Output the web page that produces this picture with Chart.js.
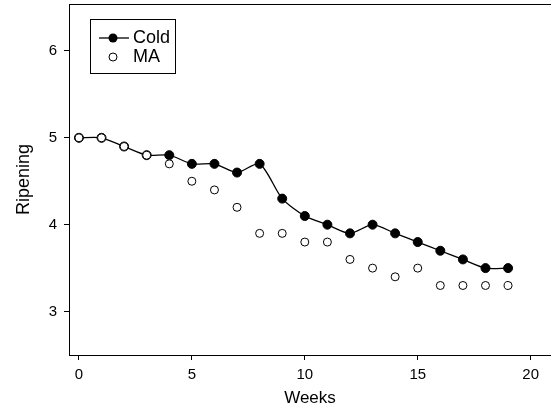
<!DOCTYPE html>
<html>
<head>
<meta charset="utf-8">
<script src="https://cdn.jsdelivr.net/npm/chart.js@4.4.1/dist/chart.umd.min.js"></script>
<style>
  html, body { margin: 0; padding: 0; background: #fff; }
  #wrap { width: 551px; height: 410px; }
</style>
</head>
<body>
<div id="wrap"><canvas id="ripeChart" width="551" height="410"></canvas></div>
<script>
// values
const weeks = [0, 1, 2, 3, 4, 5, 6, 7, 8, 9, 10, 11, 12, 13, 14, 15, 16, 17, 18, 19];
const cold  = [5.0, 5.0, 4.9, 4.8, 4.8, 4.7, 4.7, 4.6, 4.7, 4.3, 4.1, 4.0, 3.9, 4.0, 3.9, 3.8, 3.7, 3.6, 3.5, 3.5];
const ma    = [5.0, 5.0, 4.9, 4.8, 4.7, 4.5, 4.4, 4.2, 3.9, 3.9, 3.8, 3.8, 3.6, 3.5, 3.4, 3.5, 3.3, 3.3, 3.3, 3.3];
const xTicks = [0, 5, 10, 15, 20];
const yTicks = [3, 4, 5, 6];

const FONT = "'Liberation Sans', Arial, Helvetica, sans-serif";

const toPoints = (ys) => weeks.map((w, i) => ({ x: w, y: ys[i] }));

/* top frame line + boxed legend in the upper left */
const framePlugin = {
    id: 'frame',
    afterDraw(chart) {
        const { ctx, chartArea: a } = chart;
        ctx.save();
        ctx.strokeStyle = '#000';
        ctx.lineWidth = 1;
        ctx.beginPath();
        ctx.moveTo(a.left, a.top + 0.5);
        ctx.lineTo(a.right, a.top + 0.5);
        ctx.stroke();

        // legend
        const bx = a.left + 21, by = a.top + 15;
        ctx.strokeRect(bx + 0.5, by + 0.5, 85, 54);
        ctx.lineWidth = 1.3;
        ctx.beginPath();
        ctx.moveTo(bx + 9, by + 19);
        ctx.lineTo(bx + 39, by + 19);
        ctx.stroke();
        ctx.fillStyle = '#000';
        ctx.beginPath();
        ctx.arc(bx + 23, by + 19, 4.5, 0, Math.PI * 2);
        ctx.fill();
        ctx.lineWidth = 1;
        ctx.fillStyle = '#fff';
        ctx.beginPath();
        ctx.arc(bx + 23, by + 38, 4, 0, Math.PI * 2);
        ctx.fill();
        ctx.stroke();
        ctx.fillStyle = '#000';
        ctx.font = '18px ' + FONT;
        ctx.textBaseline = 'middle';
        ctx.fillText('Cold', bx + 43, by + 19);
        ctx.fillText('MA', bx + 43, by + 38);
        ctx.restore();
    }
};

new Chart(document.getElementById('ripeChart'), {
    type: 'line',
    data: {
        datasets: [
            {
                label: 'Cold', data: toPoints(cold), order: 1,
                borderColor: '#000', borderWidth: 1.3, tension: 0.25,
                pointRadius: 4.5, pointBackgroundColor: '#000', pointBorderColor: '#000', pointBorderWidth: 1
            },
            {
                label: 'MA', data: toPoints(ma), order: 0, showLine: false,
                pointRadius: 4, pointBackgroundColor: '#fff', pointBorderColor: '#000', pointBorderWidth: 1
            }
        ]
    },
    options: {
        responsive: false,
        animation: false,
        events: [],
        layout: { autoPadding: false, padding: { top: 4, right: 0, left: 0, bottom: 0 } },
        plugins: { legend: { display: false }, tooltip: { enabled: false } },
        scales: {
            x: {
                type: 'linear', min: -0.44, max: 20.9,
                afterFit: (s) => { s.height = 55; s.paddingLeft = 0; s.paddingRight = 0; },
                afterBuildTicks: (s) => { s.ticks = xTicks.map(v => ({ value: v })); },
                grid: { drawOnChartArea: false, tickLength: 5, color: '#000' },
                border: { display: true, color: '#000', width: 1 },
                ticks: { color: '#000', font: { family: FONT, size: 15 }, padding: 6, maxRotation: 0 },
                title: { display: true, text: 'Weeks', color: '#000', font: { family: FONT, size: 17 }, padding: { top: 0, bottom: 1 } }
            },
            y: {
                min: 2.5, max: 6.54,
                afterFit: (s) => { s.width = 69; s.paddingTop = 0; s.paddingBottom = 0; },
                afterBuildTicks: (s) => { s.ticks = yTicks.map(v => ({ value: v })); },
                grid: { drawOnChartArea: false, tickLength: 5, color: '#000' },
                border: { display: true, color: '#000', width: 1 },
                ticks: { color: '#000', font: { family: FONT, size: 15 }, padding: 7 },
                title: { display: true, text: 'Ripening', color: '#000', font: { family: FONT, size: 18 }, padding: { top: 13, bottom: 0 } }
            }
        }
    },
    plugins: [framePlugin]
});
</script>
</body>
</html>
